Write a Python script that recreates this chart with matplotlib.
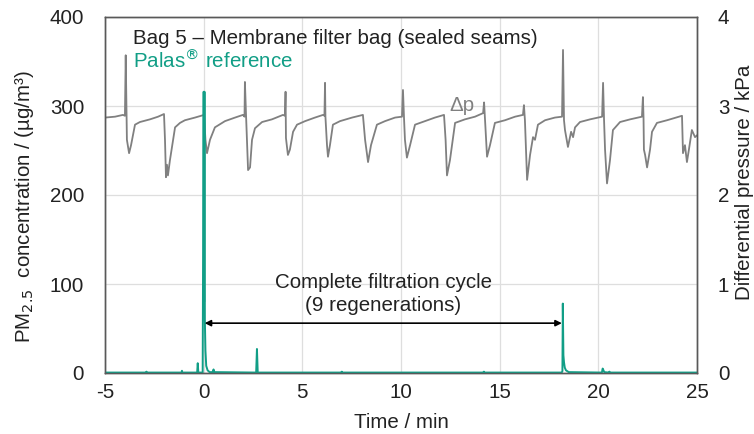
import matplotlib
matplotlib.use("Agg")
import matplotlib.pyplot as plt

plt.rcParams['font.family'] = ['Liberation Sans', 'DejaVu Sans']

# Differential pressure trace (time in min, kPa)
dp_time = [-5.00, -4.49, -4.09, -3.99, -3.95, -3.91, -3.89, -3.78, -3.68, -3.48, -3.23, -2.72, -2.31,
           -2.01, -1.96, -1.91, -1.86, -1.81, -1.71, -1.45, -1.20, -0.95, -0.44,
           0.02, 0.09, 0.17, 0.32, 0.57, 1.08, 1.59, 1.99, 2.07, 2.09, 2.15, 2.25, 2.35, 2.45, 2.60, 2.96, 3.46,
           4.02, 4.12, 4.15, 4.17, 4.27, 4.37, 4.53, 4.73, 5.14, 5.64,
           6.05, 6.12, 6.15, 6.17, 6.25, 6.30, 6.40, 6.55, 6.91, 7.52,
           8.07, 8.18, 8.33, 8.48, 8.78, 9.19, 9.70,
           10.05, 10.10, 10.15, 10.20, 10.30, 10.46, 10.71, 11.22, 11.72,
           12.18, 12.26, 12.33, 12.48, 12.74, 13.24, 13.75,
           14.16, 14.21, 14.26, 14.36, 14.51, 14.76, 15.27, 15.78,
           16.18, 16.23, 16.28, 16.39, 16.54, 16.69, 16.79, 16.94, 17.30, 17.80,
           18.16, 18.21, 18.26, 18.31, 18.46, 18.62, 18.72, 18.82, 19.07, 19.58,
           20.19, 20.24, 20.29, 20.34, 20.44, 20.59, 20.74, 21.10, 21.61,
           22.21, 22.26, 22.29, 22.31, 22.37, 22.47, 22.62, 22.72, 22.97, 23.48,
           24.24, 24.29, 24.39, 24.49, 24.59, 24.74, 24.90, 25.00]
dp_kpa = [2.87, 2.88, 2.90, 2.89, 3.57, 2.89, 2.62, 2.47, 2.56, 2.79, 2.82, 2.85, 2.88,
          2.91, 2.62, 2.20, 2.34, 2.22, 2.39, 2.76, 2.81, 2.84, 2.87,
          2.90, 2.62, 2.47, 2.62, 2.76, 2.83, 2.87, 2.90, 2.88, 3.27, 2.88, 2.28, 2.31, 2.62, 2.75, 2.82, 2.85,
          2.90, 2.89, 3.16, 2.64, 2.45, 2.51, 2.71, 2.79, 2.83, 2.87,
          2.90, 2.89, 3.26, 2.88, 2.56, 2.43, 2.56, 2.79, 2.83, 2.87,
          2.90, 2.62, 2.37, 2.56, 2.79, 2.83, 2.87,
          2.88, 3.18, 2.88, 2.62, 2.42, 2.56, 2.79, 2.83, 2.87,
          2.90, 2.62, 2.22, 2.39, 2.81, 2.85, 2.88,
          2.92, 3.04, 2.84, 2.43, 2.56, 2.81, 2.84, 2.88,
          2.90, 3.01, 2.84, 2.17, 2.45, 2.65, 2.62, 2.79, 2.84, 2.87,
          2.88, 3.63, 2.84, 2.73, 2.54, 2.71, 2.65, 2.76, 2.82, 2.85,
          2.88, 3.26, 2.84, 2.51, 2.13, 2.39, 2.73, 2.82, 2.85,
          2.88, 3.10, 2.87, 2.51, 2.45, 2.31, 2.51, 2.71, 2.81, 2.84,
          2.89, 2.47, 2.56, 2.37, 2.51, 2.73, 2.65, 2.67]

# PM2.5 reference trace (time in min, µg/m³)
pm_time = [-5.0, -2.92, -2.90, -2.88, -1.12, -1.10, -1.08, -0.33, -0.30, -0.27, -0.05, 0.00, 0.02, 0.04,
           0.06, 0.09, 0.13, 0.20, 0.30, 0.46, 0.50, 0.54, 2.66, 2.70, 2.74,
           6.98, 7.00, 7.02, 14.18, 14.20, 14.22, 18.14, 18.18, 18.20, 18.23, 18.26, 18.30, 18.36, 18.50,
           20.18, 20.22, 20.26, 20.30, 20.53, 20.56, 20.59, 25.0]
pm_conc = [0.5, 0.5, 1.5, 0.5, 0.5, 2.5, 0.5, 0.5, 11, 0.5, 0.5, 316, 80, 316,
           60, 25, 8, 3, 1, 1, 4, 1, 0.5, 27, 0.5,
           0.5, 1.5, 0.5, 0.5, 1.5, 0.5, 0.5, 2, 78, 20, 12, 6, 3, 1,
           0.5, 5, 3, 1, 0.5, 1.5, 0.5, 0.5]

x_ticks = [-5, 0, 5, 10, 15, 20, 25]
left_ticks = [0, 100, 200, 300, 400]
right_ticks = [0, 1, 2, 3, 4]

cycle_start, cycle_end, arrow_level = 0.05, 18.15, 56

teal = '#119e86'
grey = '#808080'
txt = '#222222'
fs = 14.8

fig = plt.figure(figsize=(7.54, 4.34), dpi=100)
ax1 = fig.add_axes([105/754, 61/434, 592/754, 356/434])
ax2 = ax1.twinx()
ax1.set_zorder(2)
ax2.set_zorder(1)
ax1.patch.set_visible(False)

ax2.plot(dp_time, dp_kpa, color=grey, lw=1.3, solid_joinstyle='round')
ax1.plot(pm_time, pm_conc, color=teal, lw=1.4)

ax1.set_xlim(-5, 25)
ax1.set_ylim(0, 400)
ax2.set_ylim(0, 4)
ax1.set_xticks(x_ticks)
ax1.set_yticks(left_ticks)
ax2.set_yticks(right_ticks)
ax1.set_xticklabels([str(v) for v in x_ticks])
ax2.xaxis.set_visible(True)
ax2.set_xticks(x_ticks)
ax2.tick_params(axis='x', labelbottom=False, labeltop=False)
ax2.grid(True, color='#dedede', lw=0.9)
ax2.set_axisbelow(True)

for a in (ax1, ax2):
    a.tick_params(length=0, labelsize=fs, colors=txt)
    for s in a.spines.values():
        s.set_color('#595959')
        s.set_linewidth(1.0)
ax1.tick_params(axis='y', pad=15)
ax2.tick_params(axis='y', pad=15)
ax1.tick_params(axis='x', pad=7)

ax1.set_xlabel('Time / min', fontsize=fs, color=txt, labelpad=8)
fig.text(25/754, 1 - 206/434, 'PM$_{2.5}$  concentration / (µg/m³)', rotation=90,
         ha='center', va='center', fontsize=fs, color=txt)
fig.text(744/754, 1 - 182/434, 'Differential pressure / kPa', rotation=90,
         ha='center', va='center', fontsize=fs, color=txt)

ax1.text(-3.6, 376, 'Bag 5 – Membrane filter bag (sealed seams)', fontsize=fs, color=txt,
         ha='left', va='center')
ax1.text(-3.6, 351, 'Palas$^{®}$ reference', fontsize=fs, color=teal, ha='left', va='center')
ax2.text(13.1, 3.01, 'Δp', fontsize=fs, color=grey, ha='center', va='center')

ax1.annotate('', xy=(cycle_start, arrow_level), xytext=(cycle_end, arrow_level),
             arrowprops=dict(arrowstyle='<|-|>', color='black', lw=1.2, mutation_scale=9,
                             shrinkA=0, shrinkB=0))
mid = (cycle_start + cycle_end) / 2
ax1.text(mid, 102, 'Complete filtration cycle', fontsize=fs, color=txt, ha='center', va='center')
ax1.text(mid, 76, '(9 regenerations)', fontsize=fs, color=txt, ha='center', va='center')

fig.savefig('out.png', dpi=100)
